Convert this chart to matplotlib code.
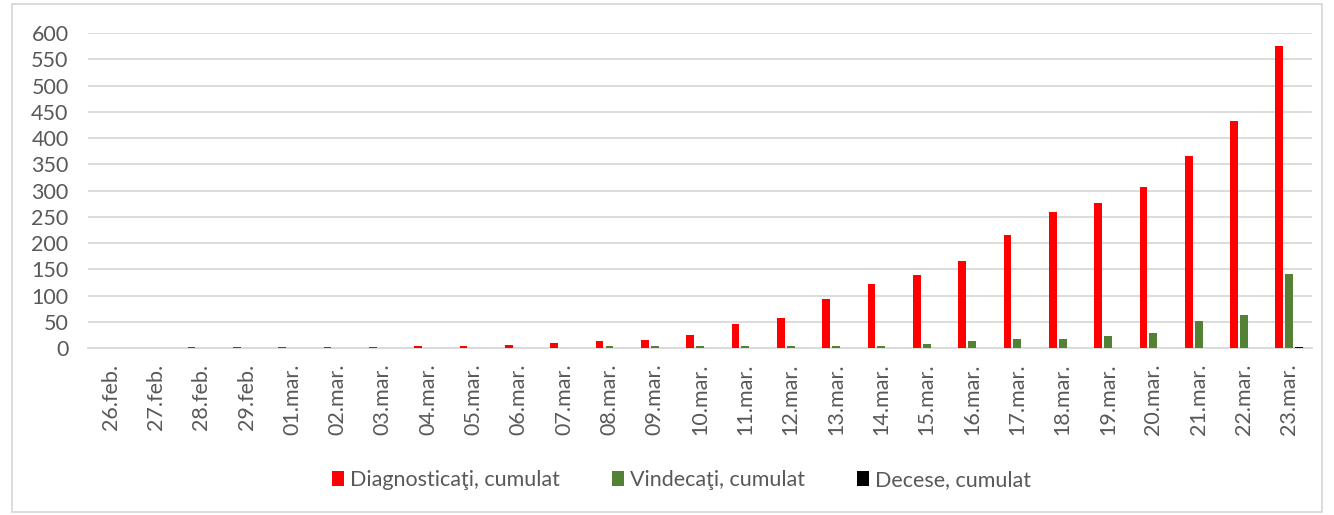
"""Grafic cumulat: diagnosticaţi, vindecaţi, decese (26.feb - 23.mar)."""
import numpy as np
import matplotlib
matplotlib.use("Agg")
import matplotlib.pyplot as plt
from matplotlib.patches import Rectangle

plt.rcParams["font.family"] = ["Lato", "DejaVu Sans"]

# date
zile = ["26.feb.", "27.feb.", "28.feb.", "29.feb.", "01.mar.", "02.mar.", "03.mar.",
        "04.mar.", "05.mar.", "06.mar.", "07.mar.", "08.mar.", "09.mar.", "10.mar.",
        "11.mar.", "12.mar.", "13.mar.", "14.mar.", "15.mar.", "16.mar.", "17.mar.",
        "18.mar.", "19.mar.", "20.mar.", "21.mar.", "22.mar.", "23.mar."]
diagnosticati = [1, 1, 3, 3, 3, 3, 3, 4, 4, 7, 10, 14, 15, 26,
                 47, 58, 94, 123, 140, 167, 216, 259, 276, 307, 366, 432, 576]
vindecati = [0, 0, 0, 0, 0, 0, 0, 0, 0, 1, 1, 4, 4, 4,
             4, 4, 4, 4, 8, 14, 18, 18, 24, 29, 51, 63, 142]
decese = [0, 0, 0, 0, 0, 0, 0, 0, 0, 0, 0, 0, 0, 0,
          0, 0, 0, 0, 0, 0, 0, 0, 0, 0, 0, 1, 3]
y_ticks = list(range(0, 601, 50))

ROSU, VERDE, NEGRU = "#FF0000", "#548235", "#000000"
GRI_TEXT, GRI_LINIE = "#595959", "#D9D9D9"

fig = plt.figure(figsize=(13.34, 5.15), dpi=100)
ax = fig.add_axes([0.066, 0.3237, 0.9175, 0.6123])

x = np.arange(len(zile))
w, off = 0.17, 0.22
ax.bar(x - off, diagnosticati, w, color=ROSU, label="Diagnosticaţi, cumulat", zorder=3)
ax.bar(x, vindecati, w, color=VERDE, label="Vindecaţi, cumulat", zorder=3)
ax.bar(x + off, decese, w, color=NEGRU, label="Decese, cumulat", zorder=3)

ax.set_xlim(-0.5, len(zile) - 0.5)
ax.set_ylim(0, 600)
ax.set_yticks(y_ticks)
ax.set_xticks(x)
ax.set_xticklabels(zile, rotation=90)
ax.tick_params(axis="both", length=0, labelsize=15.5, labelcolor=GRI_TEXT)
ax.tick_params(axis="x", pad=11)
ax.tick_params(axis="y", pad=14)
ax.grid(axis="y", color=GRI_LINIE, linewidth=1.3, zorder=0)
for s in ("top", "right", "left"):
    ax.spines[s].set_visible(False)
ax.spines["bottom"].set_color(GRI_LINIE)
ax.spines["bottom"].set_linewidth(1.3)

leg = fig.legend(loc="center", bbox_to_anchor=(0.511, 0.068), ncol=3, frameon=False,
                 fontsize=15.5, handlelength=0.55, handleheight=0.7, handletextpad=0.3,
                 columnspacing=2.4)
for t in leg.get_texts():
    t.set_color(GRI_TEXT)

# chenarul gri din jurul graficului
fig.patches.append(Rectangle((0.009, 0.006), 0.982, 0.986, transform=fig.transFigure,
                             fill=False, edgecolor=GRI_LINIE, linewidth=1.3))

fig.savefig("out.png", dpi=100)
